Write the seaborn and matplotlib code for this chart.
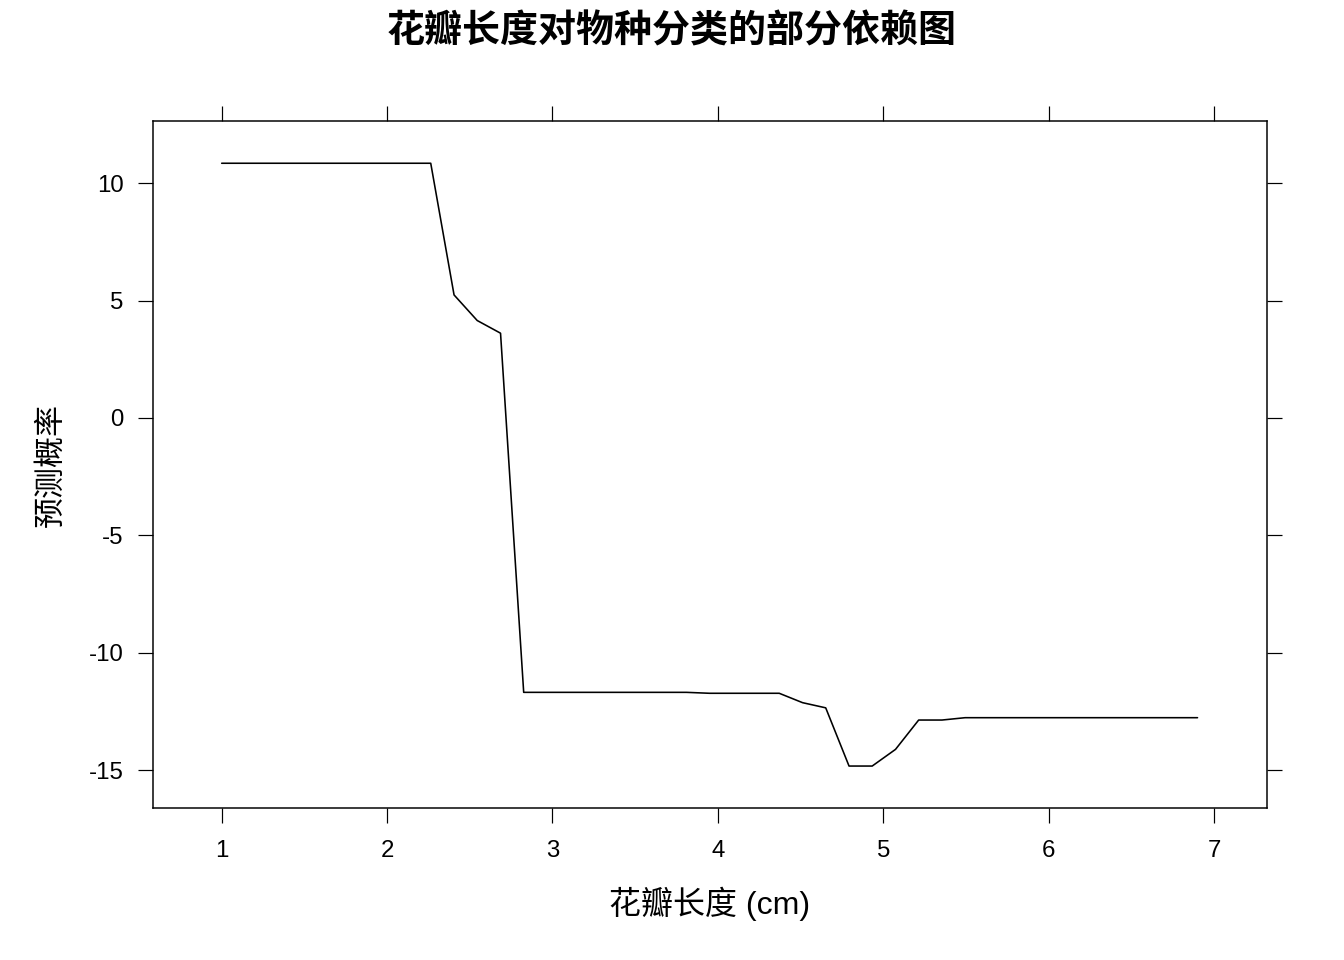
import matplotlib
matplotlib.use("Agg")
import matplotlib.pyplot as plt
import seaborn as sns
import pandas as pd

# Grid of petal length values (cm)
petal_length = [1.000, 1.140, 1.281, 1.421, 1.562, 1.702, 1.843, 1.983, 2.124, 2.264,
                2.405, 2.545, 2.686, 2.826, 2.967, 3.107, 3.248, 3.388, 3.529, 3.669,
                3.810, 3.950, 4.090, 4.231, 4.371, 4.512, 4.652, 4.793, 4.933, 5.074,
                5.214, 5.355, 5.495, 5.636, 5.776, 5.917, 6.057, 6.198, 6.338, 6.479,
                6.619, 6.760, 6.900]
# Partial dependence (predicted value)
yhat = [10.85, 10.85, 10.85, 10.85, 10.85, 10.85, 10.85, 10.85, 10.85, 10.85,
        5.24, 4.15, 3.61, -11.69, -11.69, -11.69, -11.69, -11.69, -11.69, -11.69,
        -11.69, -11.73, -11.73, -11.73, -11.73, -12.13, -12.35, -14.83, -14.83, -14.12,
        -12.87, -12.87, -12.77, -12.77, -12.77, -12.77, -12.77, -12.77, -12.77, -12.77,
        -12.77, -12.77, -12.77]

x_ticks = [1, 2, 3, 4, 5, 6, 7]
y_ticks = [-15, -10, -5, 0, 5, 10]

title = "花瓣长度对物种分类的部分依赖图"
xlabel = "花瓣长度 (cm)"
ylabel = "预测概率"

sns.set_style("ticks")
plt.rcParams["font.family"] = ["Liberation Sans", "Noto Sans CJK SC", "DejaVu Sans"]
plt.rcParams["axes.unicode_minus"] = False
plt.rcParams["text.color"] = "black"
plt.rcParams["axes.labelcolor"] = "black"

df = pd.DataFrame({"x": petal_length, "y": yhat})

fig = plt.figure(figsize=(1344 / 144, 960 / 144), dpi=144)
ax = fig.add_axes([152.7 / 1344, 1 - 808.3 / 960, (1267 - 152.7) / 1344, (808.3 - 121) / 960])

sns.lineplot(data=df, x="x", y="y", ax=ax, color="black", linewidth=0.8,
             estimator=None, sort=False)

ax.set_xlim(0.583, 7.32)
ax.set_ylim(-16.63, 12.65)
ax.set_xticks(x_ticks)
ax.set_yticks(y_ticks)
ax.set_xticklabels([str(v) for v in x_ticks])
ax.set_yticklabels([str(v) for v in y_ticks])

for side in ["top", "right", "bottom", "left"]:
    ax.spines[side].set_visible(True)
    ax.spines[side].set_linewidth(0.75)
    ax.spines[side].set_color("black")

ax.tick_params(axis="both", which="major", direction="out", length=7.5, width=0.6,
               color="black", labelsize=12, labelcolor="black",
               top=True, right=True, labeltop=False, labelright=False)
ax.tick_params(axis="x", pad=8.5)
ax.tick_params(axis="y", pad=7)

ax.set_xlabel(xlabel, fontsize=16, labelpad=12, color="black",
              family=["Liberation Sans", "Noto Sans CJK SC"])
ax.set_ylabel(ylabel, fontsize=15.5, labelpad=11, color="black",
              family=["Noto Sans CJK SC", "Liberation Sans"])

fig.text(0.5, 1 - 31 / 960, title, ha="center", va="center", fontsize=19,
         fontweight="bold", color="black", family=["Noto Sans CJK SC", "DejaVu Sans"])

ax.grid(False)
fig.savefig("out.png", dpi=144, facecolor="white")
